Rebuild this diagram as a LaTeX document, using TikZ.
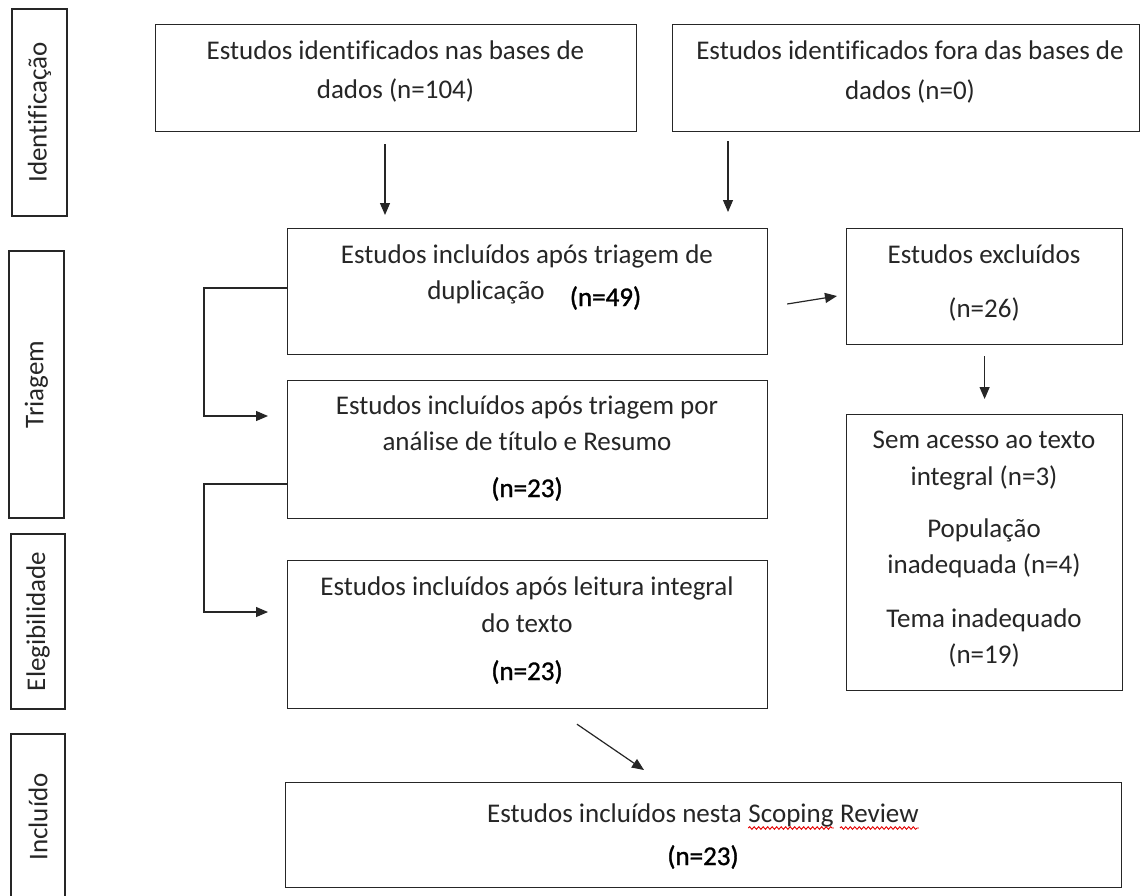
\documentclass[tikz,border=0pt]{standalone}
\usepackage{fontspec}
\setmainfont{Carlito}[Ligatures=NoCommon]
\newfontfamily\heavyfont[FakeBold=1.2,Ligatures=NoCommon]{Carlito}
\usetikzlibrary{arrows.meta,calc,decorations.pathmorphing}
\tikzset{
  box/.style={draw=black!85, line width=1.2pt, inner sep=0pt, anchor=north west, rectangle},
  lab/.style={draw=black!85, line width=1.2pt, inner sep=0pt, rotate=90, rectangle,
    font=\fontsize{27pt}{38pt}\selectfont, text=black!85},
  txt/.style={inner sep=0pt, anchor=base, font=\fontsize{27pt}{38pt}\selectfont, text=black!85},
  num/.style={inner sep=0pt, anchor=base, font=\fontsize{27pt}{38pt}\heavyfont, text=black},
  arr/.style={draw=black!85, line width=1.2pt, -{Triangle[length=12pt,width=10pt]}},
  squig/.style={draw=red!90!black, line width=0.9pt, decorate,
    decoration={snake, amplitude=1.3pt, segment length=4.5pt}}
}
\begin{document}
\begin{tikzpicture}[x=1pt,y=-1pt]
\useasboundingbox (0,0) rectangle (1142,895);
\clip (0,0) rectangle (1142,895);
\fill[white] (0,0) rectangle (1142,895);

% phase labels
\node[lab, minimum width=207pt, minimum height=55pt] (L1) at (39.5,112.5) {Identificação};
\node[lab, minimum width=267pt, minimum height=55pt] (L2) at (36.5,384.5) {Triagem};
\node[lab, minimum width=175pt, minimum height=54pt] (L3) at (38,621.5) {Elegibilidade};
\node[lab, minimum width=166pt, minimum height=54pt] (L4) at (38,817) {Incluído};

% boxes
\node[box, minimum width=481pt, minimum height=107pt] (A) at (155,24) {};
\node[box, minimum width=467pt, minimum height=107pt] (B) at (672,24) {};
\node[box, minimum width=480pt, minimum height=126pt] (C) at (287,228) {};
\node[box, minimum width=276pt, minimum height=116pt] (D) at (846,228) {};
\node[box, minimum width=480pt, minimum height=138pt] (E) at (287,380) {};
\node[box, minimum width=276pt, minimum height=276pt] (F) at (846,414) {};
\node[box, minimum width=480pt, minimum height=148pt] (G) at (287,560) {};
\node[box, minimum width=836pt, minimum height=105pt] (H) at (285,782) {};

% texts
\node[txt] (A1) at (395.5,59) {Estudos identificados nas bases de};
\node[txt] (A2) at (395.5,98) {dados (n=104)};
\node[txt] (B1) at (910,59) {Estudos identificados fora das bases de};
\node[txt] (B2) at (910,99) {dados (n=0)};
\node[txt] (C1) at (527,263) {Estudos incluídos após triagem de};
\node[txt] (C2) at (486,299) {duplicação};
\node[num] (C3) at (605.5,306) {(n=49)};
\node[txt] (D1) at (984,263) {Estudos excluídos};
\node[txt] (D2) at (984,317) {(n=26)};
\node[txt] (E1) at (527,414) {Estudos incluídos após triagem por};
\node[txt] (E2) at (527,450) {análise de título e Resumo};
\node[num] (E3) at (527,497) {(n=23)};
\node[txt] (F1) at (984,448) {Sem acesso ao texto};
\node[txt] (F2) at (984,485) {integral (n=3)};
\node[txt] (F3) at (984,537) {População};
\node[txt] (F4) at (984,573) {inadequada (n=4)};
\node[txt] (F5) at (984,627) {Tema inadequado};
\node[txt] (F6) at (984,663) {(n=19)};
\node[txt] (G1) at (527,595) {Estudos incluídos após leitura integral};
\node[txt] (G2) at (527,632) {do texto};
\node[num] (G3) at (527,680) {(n=23)};
\node[txt, anchor=base west] (H1a) at (487,822) {Estudos incluídos nesta};
\node[txt, anchor=base west] (H1b) at ($(H1a.base east)+(6.1,0)$) {Scoping};
\node[txt, anchor=base west] (H1c) at ($(H1b.base east)+(6.1,0)$) {Review};
\node[num] (H2) at (703,865) {(n=23)};

\draw[squig] ($(H1b.base west)+(0,6)$) -- ($(H1b.base east)+(0,6)$);
\draw[squig] ($(H1c.base west)+(0,6)$) -- ($(H1c.base east)+(0,6)$);

% connector end points
\coordinate (a1s) at ($(A.south west)+(230,12)$);
\coordinate (a1e) at ($(C.north west)+(98,-13)$);
\coordinate (b1s) at ($(B.south west)+(56,9)$);
\coordinate (b1e) at ($(C.north west)+(441,-16)$);
\coordinate (cds) at ($(C.north east)+(19,76)$);
\coordinate (cde) at ($(D.north west)+(-9,68)$);
\coordinate (dfs) at ($(D.south)+(0,11)$);
\coordinate (dfe) at ($(F.north)+(0,-15)$);
\coordinate (ces) at ($(C.north west)+(0,60)$);
\coordinate (cee) at ($(E.north west)+(-19,36)$);
\coordinate (egs) at ($(E.north west)+(0,104)$);
\coordinate (ege) at ($(G.north west)+(-19,52)$);
\coordinate (ghs) at ($(G.south west)+(290,15)$);
\coordinate (ghe) at ($(H.north west)+(359,-12)$);

% connectors
\draw[arr] (a1s) -- (a1e);
\draw[arr] (b1s) -- (b1e);
\draw[arr] (cds) -- (cde);
\draw[arr] (dfs) -- (dfe);
\draw[arr] (ces) -- ++(-83,0) |- (cee);
\draw[arr] (egs) -- ++(-83,0) |- (ege);
\draw[arr] (ghs) -- (ghe);
\end{tikzpicture}
\end{document}
